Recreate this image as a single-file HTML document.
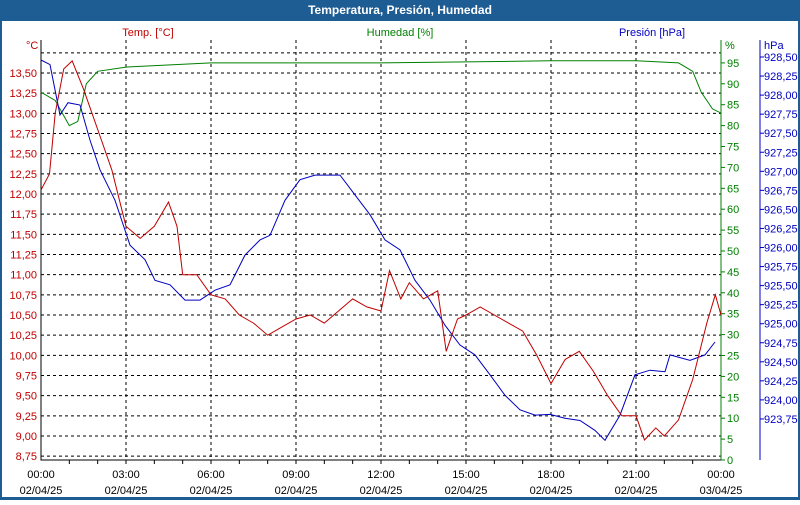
<!DOCTYPE html>
<html><head><meta charset="utf-8"><style>
body{margin:0;width:800px;height:500px;overflow:hidden;background:#fff;font-family:"Liberation Sans",sans-serif}
</style></head><body>
<svg width="800" height="500" xmlns="http://www.w3.org/2000/svg" font-family="'Liberation Sans', sans-serif" font-size="11">
<rect x="0" y="0" width="800" height="500" fill="#1e5d94"/>
<rect x="2" y="21" width="796" height="476" fill="#fff"/>
<text x="400" y="14" fill="#fff" font-weight="bold" text-anchor="middle" font-size="12">Temperatura, Presión, Humedad</text>
<g id="grid"></g>
<g id="axes"></g>
<g id="series"></g>
</svg>
<script>
const tempH=[0,0.3,0.5,0.8,1.1,1.5,2,2.5,3,3.5,4,4.5,4.8,5,5.5,6,6.5,7,7.5,8,8.5,9,9.5,10,10.5,11,11.5,12,12.3,12.7,13,13.5,14,14.3,14.7,15,15.5,16,16.5,17,17.5,18,18.5,19,19.5,20,20.5,21,21.3,21.7,22,22.5,23,23.5,23.8,24];
const tempV=[12.05,12.25,13.0,13.55,13.65,13.3,12.8,12.3,11.6,11.45,11.6,11.9,11.6,11.0,11.0,10.75,10.7,10.5,10.4,10.25,10.35,10.45,10.5,10.4,10.55,10.7,10.6,10.55,11.05,10.7,10.9,10.7,10.8,10.05,10.45,10.5,10.6,10.5,10.4,10.3,10.0,9.65,9.95,10.05,9.8,9.5,9.25,9.25,8.95,9.1,9.0,9.2,9.7,10.4,10.75,10.5];
const humH=[0,0.5,1,1.3,1.6,2,3,6,12,18,21,22.5,23,23.3,23.7,24];
const humV=[88,86,80,81,90,93,94,95,95,95.5,95.5,95,93,88,84,83];
const presX=[41,50,60,68,80,90,100,115,130,145,155,170,185,200,215,230,245,260,270,285,300,315,340,355,370,385,400,415,430,445,460,475,490,505,520,535,550,565,580,595,605,620,635,650,665,670,690,705,715];
const presV=[928.46,928.40,927.74,927.90,927.87,927.41,927.02,926.62,926.03,925.84,925.57,925.51,925.31,925.31,925.44,925.51,925.90,926.10,926.16,926.62,926.89,926.95,926.95,926.69,926.43,926.10,925.97,925.57,925.31,924.98,924.72,924.59,924.33,924.06,923.87,923.80,923.81,923.76,923.73,923.60,923.47,923.80,924.33,924.39,924.37,924.59,924.52,924.59,924.76];
const tempTicks=["8,75","9,00","9,25","9,50","9,75","10,00","10,25","10,50","10,75","11,00","11,25","11,50","11,75","12,00","12,25","12,50","12,75","13,00","13,25","13,50"];
const humTicks=[0,5,10,15,20,25,30,35,40,45,50,55,60,65,70,75,80,85,90,95];
const presTicks=["923,75","924,00","924,25","924,50","924,75","925,00","925,25","925,50","925,75","926,00","926,25","926,50","926,75","927,00","927,25","927,50","927,75","928,00","928,25","928,50"];
const timeTicks=["00:00","03:00","06:00","09:00","12:00","15:00","18:00","21:00","00:00"];
const dateTicks=["02/04/25","02/04/25","02/04/25","02/04/25","02/04/25","02/04/25","02/04/25","02/04/25","03/04/25"];

const L=41,R=721,T=40,B=460;
const xH=h=>L+h*(R-L)/24;
const yT=v=>73+(13.5-v)*80.67;
const yH=v=>460-v*4.18;
const yP=v=>57+(928.5-v)*76.2;
const NS="http://www.w3.org/2000/svg";
function mk(p,tag,at,txt){const e=document.createElementNS(NS,tag);for(const k in at)e.setAttribute(k,at[k]);if(txt!==undefined)e.textContent=txt;p.appendChild(e);return e;}
const grid=document.getElementById('grid'),axes=document.getElementById('axes'),ser=document.getElementById('series');
for(let i=0;i<=20;i++){const y=yT(8.75+i*0.25);
 const g=mk(grid,'line',{x1:L,x2:R,y1:y,y2:y,stroke:'#000','stroke-dasharray':'3,3'});
 
 }
for(let i=1;i<8;i++){const x=xH(i*3);
 const g=mk(grid,'line',{x1:x,x2:x,y1:T,y2:B,stroke:'#000','stroke-dasharray':'3,3'});
 
 }
const ax=mk(axes,'path',{d:`M${L},${T}V${B}H${R}`,stroke:'#000',fill:'none'});


const ha=mk(axes,'line',{x1:R,x2:R,y1:T,y2:B,stroke:'#008000'});


const pa=mk(axes,'line',{x1:760,x2:760,y1:40,y2:460,stroke:'#0000c0'});


for(let h=1;h<24;h++){const t=mk(axes,'line',{x1:xH(h),x2:xH(h),y1:B,y2:B+4,stroke:'#000'});
 
 }
tempTicks.forEach((s,i)=>{const t=mk(axes,'text',{x:37,y:yT(8.75+i*0.25)+4,fill:'#c00000','text-anchor':'end'},s);
 
 });
humTicks.forEach(v=>{const y=yH(v);const t=mk(axes,'text',{x:727,y:y+4,fill:'#008000'},String(v));
 
 
 const k=mk(axes,'line',{x1:R,x2:R+4,y1:y,y2:y,stroke:'#008000'});
 
 });
presTicks.forEach((s,i)=>{const y=yP(923.75+i*0.25);const t=mk(axes,'text',{x:764,y:y+4,fill:'#0000c0'},s);
 
 
 const k=mk(axes,'line',{x1:760,x2:764,y1:y,y2:y,stroke:'#0000c0'});
 
 });
timeTicks.forEach((s,i)=>{const x=xH(i*3);
 const t=mk(axes,'text',{x:x,y:478,'text-anchor':'middle',fill:'#000'},s);
 
 
 const d=mk(axes,'text',{x:x,y:494,'text-anchor':'middle',fill:'#000'},dateTicks[i]);
 
 });
[[26,49,'#c00000','°C','temp-unit'],[148,36,'#c00000','Temp. [°C]','temp-axis-title'],[400,36,'#008000','Humedad [%]','humidity-axis-title'],[652,36,'#0000c0','Presión [hPa]','pressure-axis-title'],[725,49,'#008000','%','humidity-unit'],[764,49,'#0000c0','hPa','pressure-unit']].forEach(a=>{
 const t=mk(axes,'text',{x:a[0],y:a[1],fill:a[2],'text-anchor':(a[4].includes('title')?'middle':'start')},a[3]);
 
 });
function line(xs,ys,col,name){const d=xs.map((x,i)=>(i?'L':'M')+x.toFixed(1)+','+ys[i].toFixed(1)).join('');
 const p=mk(ser,'path',{d:d,stroke:col,fill:'none','stroke-width':1});
 
 }
line(humH.map(xH),humV.map(yH),'#008000','humidity-line');
line(presX,presV.map(yP),'#0000c0','pressure-line');
line(tempH.map(xH),tempV.map(yT),'#c00000','temperature-line');
</script>
</body></html>
